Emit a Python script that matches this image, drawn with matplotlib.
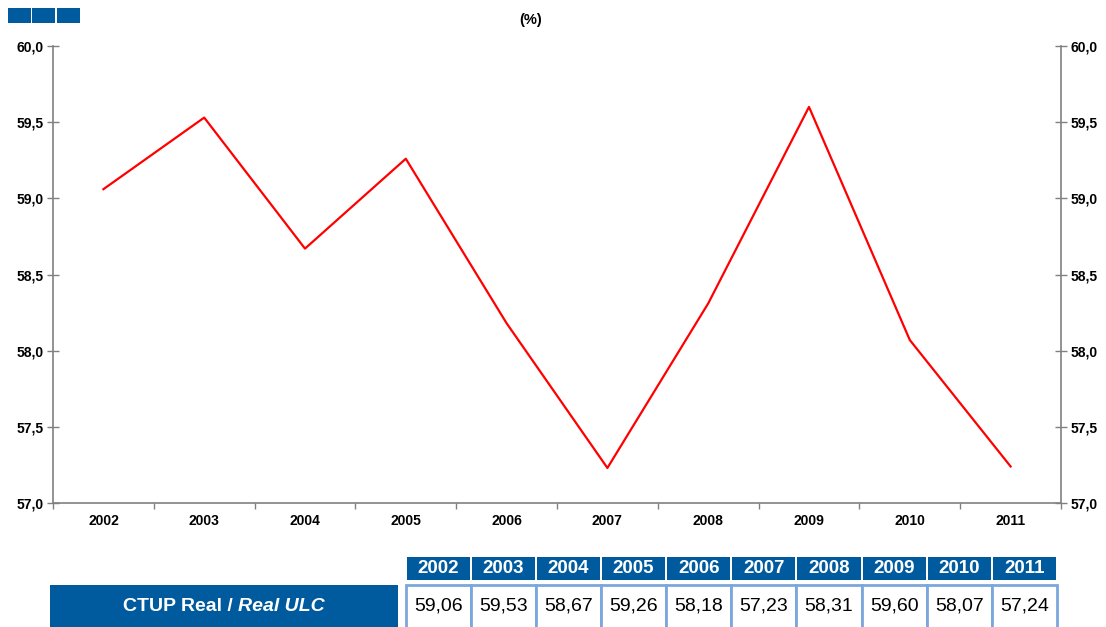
import matplotlib
matplotlib.use("Agg")
import matplotlib.pyplot as plt
from matplotlib.patches import Rectangle

years = ["2002", "2003", "2004", "2005", "2006", "2007", "2008", "2009", "2010", "2011"]
values = [59.06, 59.53, 58.67, 59.26, 58.18, 57.23, 58.31, 59.60, 58.07, 57.24]
value_labels = ["59,06", "59,53", "58,67", "59,26", "58,18", "57,23", "58,31", "59,60", "58,07", "57,24"]
y_ticks = [57.0, 57.5, 58.0, 58.5, 59.0, 59.5, 60.0]
y_tick_labels = ["57,0", "57,5", "58,0", "58,5", "59,0", "59,5", "60,0"]
row_label = "CTUP Real / "
row_label_italic = "Real ULC"
unit_label = "(%)"

BLUE = "#005A9E"
LIGHT = "#7BA7DD"
GREY = "#808080"

plt.rcParams['font.family'] = ['Liberation Sans', 'DejaVu Sans']

W, H = 1106, 627
fig = plt.figure(figsize=(W / 100, H / 100), dpi=100)

def px_axes(x0, y0, x1, y1):
    return fig.add_axes([x0 / W, 1 - y1 / H, (x1 - x0) / W, (y1 - y0) / H])

# main chart
ax = px_axes(53, 46, 1061, 503)
x = list(range(len(years)))
ax.plot(x, values, color="#FF0000", lw=1.6)
ax.set_xlim(-0.5, len(years) - 0.5)
ax.set_ylim(57.0, 60.0)
ax.set_yticks(y_ticks)
ax.set_yticklabels(y_tick_labels, fontsize=10, fontweight="bold")
ax.tick_params(axis="y", which="major", direction="inout", length=8, width=1, color=GREY,
               left=True, right=True, labelleft=True, labelright=True, pad=3)
ax.set_xticks([i - 0.5 for i in range(len(years) + 1)])
ax.set_xticklabels([])
ax.tick_params(axis="x", which="major", direction="out", length=4, width=1, color=GREY)
ax.set_xticks(x, minor=True)
ax.set_xticklabels(years, minor=True, fontsize=10, fontweight="bold")
ax.tick_params(axis="x", which="minor", length=0, pad=8)
ax.spines["top"].set_visible(False)
for s in ["left", "right", "bottom"]:
    ax.spines[s].set_color(GREY)
    ax.spines[s].set_linewidth(1.2)

fig.text(531 / W, 1 - 20 / H, unit_label, ha="center", va="center", fontsize=10.5, fontweight="bold")

# top-left squares
sq = px_axes(0, 0, 100, 30)
sq.set_xlim(0, 100); sq.set_ylim(30, 0); sq.axis("off")
for x0 in [8, 32, 57]:
    sq.add_patch(Rectangle((x0, 8), 23, 15, facecolor=BLUE, edgecolor="none"))

# table
tb = px_axes(0, 550, W, H)
tb.set_xlim(0, W); tb.set_ylim(H, 550); tb.axis("off")
col0 = 405.5
cw = 65.15
for i, (yr, lab) in enumerate(zip(years, value_labels)):
    cx = col0 + i * cw
    tb.add_patch(Rectangle((cx + 1, 557), cw - 2, 23, facecolor=BLUE, edgecolor="none"))
    tb.text(cx + cw / 2, 569, yr, ha="center", va="center", color="white",
            fontsize=13.5, fontweight="bold")
    tb.add_patch(Rectangle((cx, 585.5), cw, 45, facecolor="white", edgecolor=LIGHT, lw=2))
    tb.text(cx + cw / 2, 606, lab, ha="center", va="center", color="black", fontsize=14)

tb.add_patch(Rectangle((50, 585), 348, 45, facecolor=BLUE, edgecolor="none"))
t1 = tb.text(224, 607, row_label, ha="right", va="center", color="white",
             fontsize=14, fontweight="bold")
t2 = tb.text(224, 607, row_label_italic, ha="left", va="center", color="white",
             fontsize=14, fontweight="bold", fontstyle="italic")

fig.canvas.draw()
r = fig.canvas.get_renderer()
w1 = t1.get_window_extent(r).width
w2 = t2.get_window_extent(r).width
start = 224 - (w1 + w2) / 2
t1.set_x(start + w1)
t2.set_x(start + w1)

fig.savefig("out.png", dpi=100)
